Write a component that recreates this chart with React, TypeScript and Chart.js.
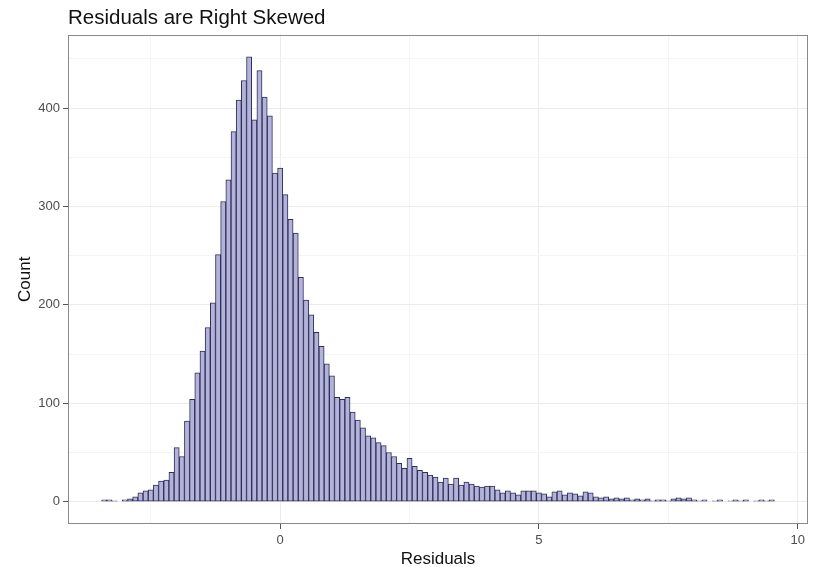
import React, { useEffect, useRef } from 'react';
import { Chart, registerables } from 'chart.js';

Chart.register(...registerables);

const chartTitle = 'Residuals are Right Skewed';
const xTitle = 'Residuals';
const yTitle = 'Count';

// histogram bin centers (bin width 0.1)
const binCenters = [
  -3.4, -3.3, -3.2, -3.1, -3.0, -2.9, -2.8, -2.7, -2.6, -2.5,
  -2.4, -2.3, -2.2, -2.1, -2.0, -1.9, -1.8, -1.7, -1.6, -1.5,
  -1.4, -1.3, -1.2, -1.1, -1.0, -0.9, -0.8, -0.7, -0.6, -0.5,
  -0.4, -0.3, -0.2, -0.1, 0.0, 0.1, 0.2, 0.3, 0.4, 0.5,
  0.6, 0.7, 0.8, 0.9, 1.0, 1.1, 1.2, 1.3, 1.4, 1.5,
  1.6, 1.7, 1.8, 1.9, 2.0, 2.1, 2.2, 2.3, 2.4, 2.5,
  2.6, 2.7, 2.8, 2.9, 3.0, 3.1, 3.2, 3.3, 3.4, 3.5,
  3.6, 3.7, 3.8, 3.9, 4.0, 4.1, 4.2, 4.3, 4.4, 4.5,
  4.6, 4.7, 4.8, 4.9, 5.0, 5.1, 5.2, 5.3, 5.4, 5.5,
  5.6, 5.7, 5.8, 5.9, 6.0, 6.1, 6.2, 6.3, 6.4, 6.5,
  6.6, 6.7, 6.8, 6.9, 7.0, 7.1, 7.2, 7.3, 7.4, 7.5,
  7.6, 7.7, 7.8, 7.9, 8.0, 8.1, 8.2, 8.3, 8.4, 8.5,
  8.6, 8.7, 8.8, 8.9, 9.0, 9.1, 9.2, 9.3, 9.4, 9.5,
];

const counts = [
  2, 2, 1, 0, 2, 3, 5, 9, 11, 12,
  17, 21, 22, 30, 55, 46, 82, 104, 131, 153,
  177, 202, 251, 305, 327, 376, 408, 428, 452, 388,
  438, 411, 392, 334, 339, 312, 287, 273, 228, 205,
  190, 172, 158, 140, 128, 106, 104, 106, 91, 83,
  75, 67, 65, 60, 57, 50, 46, 39, 34, 44,
  36, 32, 30, 27, 25, 20, 24, 18, 24, 17,
  20, 18, 16, 15, 16, 16, 12, 9, 11, 9,
  7, 11, 11, 11, 9, 8, 5, 10, 11, 7,
  9, 8, 6, 10, 9, 5, 4, 5, 3, 4,
  3, 4, 2, 3, 2, 3, 1, 2, 2, 1,
  3, 4, 3, 4, 2, 1, 2, 0, 1, 2,
  0, 1, 2, 1, 2, 0, 1, 2, 1, 2,
];

const xRange = [-4.1, 10.2];
const yRange = [-22.6, 474.6];
const xGridValues = [-2.5, 0, 2.5, 5, 7.5, 10];
const xMajorTicks = [0, 5, 10];
const yGridValues = [0, 50, 100, 150, 200, 250, 300, 350, 400, 450];
const yMajorTicks = [0, 100, 200, 300, 400];

const FONT = "'Liberation Sans', Arial, Helvetica, sans-serif";

const panelBorder = {
  id: 'panelBorder',
  afterDraw(chart: any) {
    const { ctx, chartArea: a } = chart;
    ctx.save();
    ctx.strokeStyle = '#8a8a8a';
    ctx.lineWidth = 1;
    ctx.strokeRect(Math.round(a.left) + 0.5, Math.round(a.top) + 0.5,
      Math.round(a.right - a.left) - 1, Math.round(a.bottom - a.top) - 1);
    ctx.restore();
  },
};

export default function App() {
  const canvasRef = useRef<HTMLCanvasElement | null>(null);

  useEffect(() => {
    const canvas = canvasRef.current;
    if (!canvas) return;
    const data = binCenters.map((x, i) => ({ x, y: counts[i] }));
    const chart = new Chart(canvas, {
      type: 'bar',
      data: {
        datasets: [
          {
            data,
            backgroundColor: '#B3B3DA',
            borderColor: '#2E2E5A',
            borderWidth: 1,
            borderSkipped: false,
            barPercentage: 1,
            categoryPercentage: 1,
            grouped: false,
          } as any,
        ],
      },
      options: {
        animation: false,
        responsive: true,
        maintainAspectRatio: false,
        layout: { padding: { left: 0, right: 5, top: 0, bottom: 0 } },
        plugins: {
          legend: { display: false },
          tooltip: { enabled: false },
          title: {
            display: true,
            text: chartTitle,
            align: 'start',
            fullSize: false,
            color: '#111',
            font: { family: FONT, size: 20.5, weight: 'normal' },
            padding: { top: 6, bottom: 4 },
          },
        },
        scales: {
          x: {
            type: 'linear',
            offset: false,
            min: xRange[0],
            max: xRange[1],
            afterBuildTicks: (scale: any) => {
              scale.ticks = xGridValues.map((v) => ({ value: v }));
            },
            afterFit: (scale: any) => {
              scale.height = 43;
            },
            ticks: {
              autoSkip: false,
              maxRotation: 0,
              padding: 4,
              color: '#4D4D4D',
              font: { family: FONT, size: 13 },
              callback: (v: any) => (xMajorTicks.includes(Number(v)) ? String(v) : ''),
            },
            grid: {
              offset: false,
              color: (c: any) => (xMajorTicks.includes(c.tick?.value) ? '#EBEBEB' : '#F4F4F4'),
              lineWidth: 1,
              tickLength: 5,
              tickColor: (c: any) => (xMajorTicks.includes(c.tick?.value) ? '#555' : 'rgba(0,0,0,0)'),
            },
            border: { display: false },
            title: {
              display: true,
              text: xTitle,
              color: '#111',
              font: { family: FONT, size: 17 },
              padding: { top: -3, bottom: -3 },
            },
          },
          y: {
            type: 'linear',
            min: yRange[0],
            max: yRange[1],
            afterBuildTicks: (scale: any) => {
              scale.ticks = yGridValues.map((v) => ({ value: v }));
            },
            afterFit: (scale: any) => {
              scale.width = 68;
            },
            ticks: {
              autoSkip: false,
              padding: 3,
              color: '#4D4D4D',
              font: { family: FONT, size: 13 },
              callback: (v: any) => (yMajorTicks.includes(Number(v)) ? String(v) : ''),
            },
            grid: {
              color: (c: any) => (yMajorTicks.includes(c.tick?.value) ? '#EBEBEB' : '#F4F4F4'),
              lineWidth: 1,
              tickLength: 5,
              tickColor: (c: any) => (yMajorTicks.includes(c.tick?.value) ? '#555' : 'rgba(0,0,0,0)'),
            },
            border: { display: false },
            title: {
              display: true,
              text: yTitle,
              color: '#111',
              font: { family: FONT, size: 17 },
              padding: { top: 15, bottom: 0 },
            },
          },
        },
      },
      plugins: [panelBorder],
    });
    return () => chart.destroy();
  }, []);

  return (
    <div style={{ position: 'fixed', left: 0, top: 0, width: 813, height: 567, background: '#fff' }}>
      <canvas ref={canvasRef} />
    </div>
  );
}
